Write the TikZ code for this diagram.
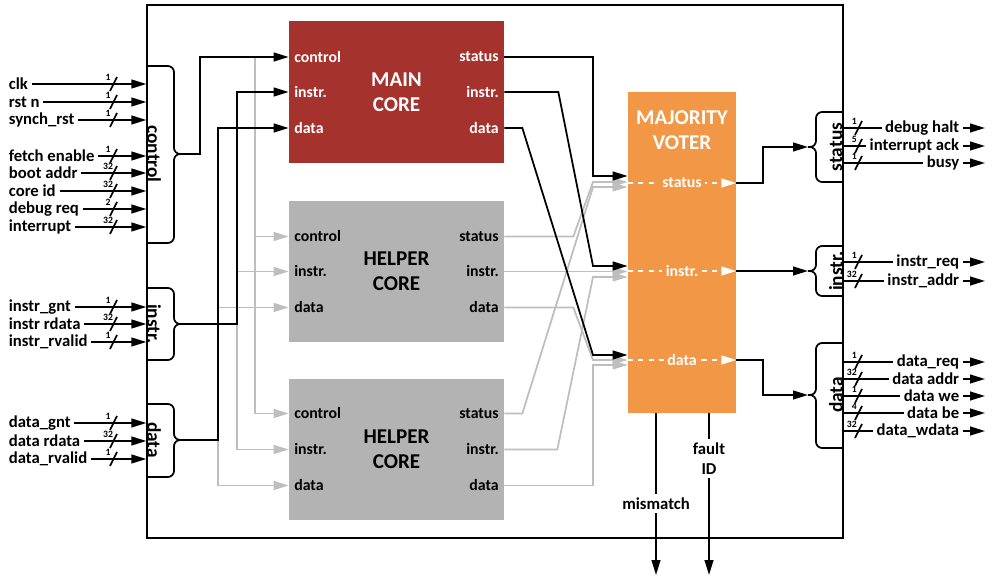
\documentclass[tikz,border=0pt]{standalone}
\usepackage{fontspec}
\setmainfont{Carlito}
\usetikzlibrary{arrows.meta,positioning,calc}

\definecolor{mainred}{RGB}{166,50,45}
\definecolor{helpgray}{RGB}{179,179,179}
\definecolor{voterorange}{RGB}{242,151,70}
\definecolor{wiregray}{RGB}{190,190,190}

\begin{document}
\begin{tikzpicture}[
    x=0.02cm, y=-0.02cm,
    font=\bfseries,
    core/.style={rectangle, minimum width=4.3cm, minimum height=2.84cm, inner sep=0pt, align=center, font=\fontsize{12}{14}\selectfont\bfseries},
    ctitle/.style={align=center, text=white, font=\fontsize{12}{14.2}\selectfont\bfseries},
    port/.style={font=\fontsize{9}{10}\selectfont\bfseries, inner sep=3pt},
    sigin/.style={font=\fontsize{9.5}{11}\selectfont\bfseries, inner sep=2pt, anchor=west},
    sigout/.style={font=\fontsize{9.5}{11}\selectfont\bfseries, inner sep=2pt, anchor=east, fill=white},
    sigbot/.style={font=\fontsize{9.5}{11.4}\selectfont\bfseries, inner sep=2pt, fill=white, align=center},
    busw/.style={font=\fontsize{5.5}{6}\selectfont\bfseries, inner sep=0pt},
    grp/.style={font=\fontsize{11}{12}\selectfont\bfseries, inner sep=0pt},
    wire/.style={line width=1pt},
    arrow/.style={-{Triangle[length=8.5pt, width=5pt]}, line width=1pt},
    grayarrow/.style={arrow, wiregray},
    votearrow/.style={arrow, white, dash pattern=on 3pt off 3pt},
    brc/.style={line width=1pt, rounded corners=3.5pt}
]
\useasboundingbox (0,0) rectangle (995,577);

% Outer box
\node[draw, line width=0.85pt, minimum width=13.92cm, minimum height=10.66cm, inner sep=0pt] (box) at (495,271.5) {};

% Cores
\node[core, fill=mainred, text=white] (main) at (396.5,92) {MAIN\\CORE};
\node[core, fill=helpgray] (helpA) at (396.5,271.5) {HELPER\\CORE};
\node[core, fill=helpgray] (helpB) at (396.5,449.5) {HELPER\\CORE};

% Core ports
\node[port, text=white, anchor=west] (main-ctl) at ($(main.west)+(0,-35)$) {control};
\node[port, text=white, anchor=west] (main-ins) at (main.west) {instr.};
\node[port, text=white, anchor=west] (main-dat) at ($(main.west)+(0,36)$) {data};
\node[port, text=white, anchor=east] (main-sts) at ($(main.east)+(0,-35)$) {status};
\node[port, text=white, anchor=east] (main-ino) at (main.east) {instr.};
\node[port, text=white, anchor=east] (main-dto) at ($(main.east)+(0,36)$) {data};

\node[port, anchor=west] (helpA-ctl) at ($(helpA.west)+(0,-35)$) {control};
\node[port, anchor=west] (helpA-ins) at (helpA.west) {instr.};
\node[port, anchor=west] (helpA-dat) at ($(helpA.west)+(0,36)$) {data};
\node[port, anchor=east] (helpA-sts) at ($(helpA.east)+(0,-35)$) {status};
\node[port, anchor=east] (helpA-ino) at (helpA.east) {instr.};
\node[port, anchor=east] (helpA-dto) at ($(helpA.east)+(0,36)$) {data};

\node[port, anchor=west] (helpB-ctl) at ($(helpB.west)+(0,-36)$) {control};
\node[port, anchor=west] (helpB-ins) at (helpB.west) {instr.};
\node[port, anchor=west] (helpB-dat) at ($(helpB.west)+(0,36)$) {data};
\node[port, anchor=east] (helpB-sts) at ($(helpB.east)+(0,-36)$) {status};
\node[port, anchor=east] (helpB-ino) at (helpB.east) {instr.};
\node[port, anchor=east] (helpB-dto) at ($(helpB.east)+(0,36)$) {data};

% Majority voter
\node[fill=voterorange, minimum width=2.16cm, minimum height=6.42cm, inner sep=0pt] (voter) at (682,252.5) {};
\node[ctitle] (vtitle) at (682,130) {MAJORITY\\VOTER};
\foreach \y/\txt in {183/status, 271/instr., 360/data}
    \draw[votearrow] (voter.west |- 0,\y) -- (voter.east |- 0,\y)
        node[port, midway, inner sep=2pt, text=white, fill=voterorange] {\txt};

% Input signals
\foreach \y/\txt/\w [count=\i] in {84/clk/1, 102/rst n/1, 120/synch\_rst/1, 156/fetch enable/1,
        173/boot addr/32, 191/core id/32, 209/debug req/2, 227/interrupt/32,
        307/instr\_gnt/1, 324/instr rdata/32, 342/instr\_rvalid/1,
        423/data\_gnt/1, 441/data rdata/32, 459/data\_rvalid/1} {
    \node[sigin] (in\i) at (5,\y) {\txt};
    \draw[arrow] (in\i.east) -- (in\i.east -| box.west);
    \draw[wire] (110,\y+7) -- (117,\y-7);
    \node[busw] at (108,\y-7) {\w};
}

% Output signals
\foreach \y/\txt/\w [count=\i] in {128/debug halt/1, 146/interrupt ack/5, 163/busy/1,
        262/instr\_req/1, 281/instr\_addr/32,
        362/data\_req/1, 379/data addr/32, 396/data we/1, 413/data be/4, 431/data\_wdata/32} {
    \draw[arrow] (box.east |- 0,\y) -- (985,\y);
    \node[sigout] (out\i) at (963,\y) {\txt};
    \draw[wire] (855,\y+7) -- (862,\y-7);
    \node[busw, anchor=east] at (857,\y-7) {\w};
}

% Left braces
\coordinate (ctl-tip) at (182,154);
\coordinate (ins-tip) at (182,324);
\coordinate (dat-tip) at (182,440);
\draw[brc] (box.west |- 0,66) -| (174,154) -- (ctl-tip);
\draw[brc] (box.west |- 0,243) -| (174,154) -- (ctl-tip);
\draw[brc] (box.west |- 0,288) -| (174,324) -- (ins-tip);
\draw[brc] (box.west |- 0,360) -| (174,324) -- (ins-tip);
\draw[brc] (box.west |- 0,404) -| (174,440) -- (dat-tip);
\draw[brc] (box.west |- 0,477) -| (174,440) -- (dat-tip);
\node[grp, rotate=-90] (g-ctl) at (154,154) {control};
\node[grp, rotate=-90] (g-ins) at (154,324) {instr.};
\node[grp, rotate=-90] (g-dat) at (154,440) {data};

% Right braces
\coordinate (sts-out) at (808,147);
\coordinate (ins-out) at (808,271);
\coordinate (dat-out) at (808,395);
\draw[brc] (box.east |- 0,112) -| (816,147) -- (sts-out);
\draw[brc] (box.east |- 0,182) -| (816,147) -- (sts-out);
\draw[brc] (box.east |- 0,246) -| (816,271) -- (ins-out);
\draw[brc] (box.east |- 0,296) -| (816,271) -- (ins-out);
\draw[brc] (box.east |- 0,343) -| (816,395) -- (dat-out);
\draw[brc] (box.east |- 0,448) -| (816,395) -- (dat-out);
\node[grp, rotate=90] (g-sts) at (836,147) {status};
\node[grp, rotate=90] (g-ino) at (836,271) {instr.};
\node[grp, rotate=90] (g-dto) at (836,395) {data};

% Inputs to the helper cores
\draw[grayarrow] (main-ctl.west -| 255,0) |- (helpA-ctl.west);
\draw[grayarrow] (main-ctl.west -| 255,0) |- (helpB-ctl.west);
\draw[grayarrow] (ins-tip -| 237,0) |- (helpA-ins.west);
\draw[grayarrow] (ins-tip -| 237,0) |- (helpB-ins.west);
\draw[grayarrow] (dat-tip -| 218,0) |- (helpA-dat.west);
\draw[grayarrow] (dat-tip -| 218,0) |- (helpB-dat.west);

% Inputs to the main core
\draw[arrow] (ctl-tip) -- ++(18,0) |- (main-ctl.west);
\draw[arrow] (ins-tip) -- ++(55,0) |- (main-ins.west);
\draw[arrow] (dat-tip) -- ++(36,0) |- (main-dat.west);

% Helper cores to voter
\draw[grayarrow] (helpA-sts.east) -- ++(69,0) -- (593,182) -- (voter.west |- 0,182);
\draw[grayarrow] (helpA-ino.east) -- (helpA-ino.east -| voter.west);
\draw[grayarrow] (helpA-dto.east) -- ++(69,0) -- (593,360) -- (voter.west |- 0,360);
\draw[grayarrow] (helpB-sts.east) -- ++(18,0) -- (593,187) -- (voter.west |- 0,187);
\draw[grayarrow] (helpB-ino.east) -- ++(53,0) -- (593,277) -- (voter.west |- 0,277);
\draw[grayarrow] (helpB-dto.east) -| (593,365) -- (voter.west |- 0,365);

% Main core to voter
\draw[arrow] (main-sts.east) -| (593,176) -- (voter.west |- 0,176);
\draw[arrow] (main-ino.east) -- ++(54,0) -- (593,266) -- (voter.west |- 0,266);
\draw[arrow] (main-dto.east) -- ++(18,0) -- (593,355) -- (voter.west |- 0,355);

% Voter outputs
\draw[arrow] (voter.east |- 0,183) -| (763,147) -- (sts-out);
\draw[arrow] (voter.east |- 0,271) -- (ins-out);
\draw[arrow] (voter.east |- 0,360) -| (763,395) -- (dat-out);

\draw[arrow] (voter.south -| 656,0) -- (656,575) node[sigbot, pos=0.556] (mism) {mismatch};
\draw[arrow] (voter.south -| 709,0) -- (709,575) node[sigbot, pos=0.28] (fault) {fault\\ID};

\end{tikzpicture}
\end{document}
